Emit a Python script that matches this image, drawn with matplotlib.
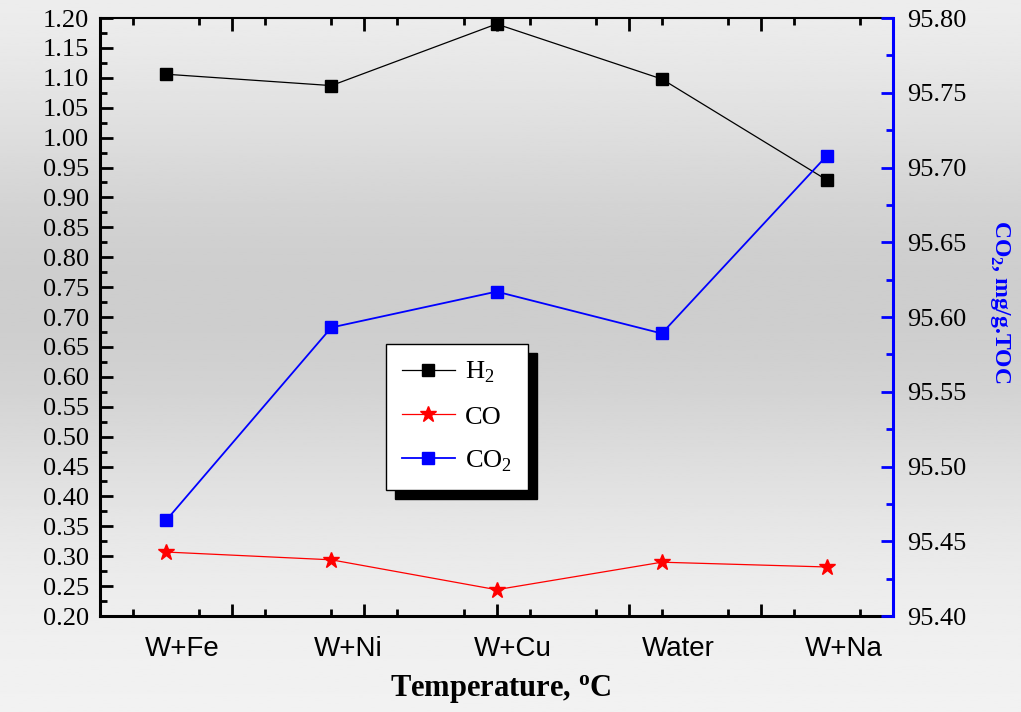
import numpy as np
import matplotlib
matplotlib.use("Agg")
from matplotlib import pyplot as plt
from matplotlib.patches import Rectangle
from matplotlib.ticker import MultipleLocator

# data
samples = ['W+Fe', 'W+Ni', 'W+Cu', 'Water', 'W+Na']
h2 = [1.106, 1.087, 1.190, 1.098, 0.929]
co = [0.307, 0.294, 0.244, 0.290, 0.282]
co2 = [95.464, 95.593, 95.617, 95.589, 95.708]

x = np.arange(1, len(samples) + 1)

plt.rcParams['font.family'] = ['Liberation Serif', 'DejaVu Serif']
plt.rcParams['mathtext.fontset'] = 'custom'
plt.rcParams['mathtext.rm'] = 'Liberation Serif'
plt.rcParams['mathtext.bf'] = 'Liberation Serif:bold'

fig = plt.figure(figsize=(10.21, 7.12), dpi=100)

# gray gradient background
bg = fig.add_axes([0, 0, 1, 1], zorder=-10)
t = np.linspace(0, 1, 300)
shade = 0.95 - 0.145 * np.exp(-((t - 0.58) / 0.3) ** 2)
bg.imshow(shade[:, None], cmap='gray', vmin=0, vmax=1, aspect='auto',
          extent=[0, 1, 0, 1], origin='lower')
bg.axis('off')

ax = fig.add_axes([0.098, 0.1348, 0.7767, 0.8399])
ax.patch.set_alpha(0)
ax2 = ax.twinx()

ax.plot(x, h2, color='black', lw=0.9, marker='s', ms=8, label='H$_2$')
ax.plot(x, co, color='red', lw=0.9, marker='*', ms=12, label='CO')
ax2.plot(x, co2, color='blue', lw=1.3, marker='s', ms=8, label='CO$_2$')

ax.set_xlim(0.6, 5.4)
ax.set_ylim(0.2, 1.2)
ax2.set_ylim(95.40, 95.80)

ax.xaxis.set_minor_locator(MultipleLocator(0.4))
ax.set_xticks(np.arange(0.6, 5.41, 0.8))
ax.set_xticklabels([])
ax.yaxis.set_major_locator(MultipleLocator(0.05))
ax.yaxis.set_minor_locator(MultipleLocator(0.025))
ax.yaxis.set_major_formatter(plt.FormatStrFormatter('%.2f'))
ax2.yaxis.set_major_locator(MultipleLocator(0.05))
ax2.yaxis.set_minor_locator(MultipleLocator(0.025))
ax2.yaxis.set_major_formatter(plt.FormatStrFormatter('%.2f'))

ax.tick_params(axis='both', which='both', direction='in', top=True, width=2)
ax.tick_params(axis='x', which='major', length=9)
ax.tick_params(axis='x', which='minor', length=5)
ax.tick_params(axis='y', which='major', length=9, labelsize=19, pad=8)
ax.tick_params(axis='y', which='minor', length=5)
ax.tick_params(axis='y', right=False, which='both')
ax2.tick_params(axis='y', which='both', direction='in', color='blue', width=2,
                labelsize=19, pad=10)
ax2.tick_params(axis='y', which='major', length=9)
ax2.tick_params(axis='y', which='minor', length=5)

for side in ['left', 'bottom']:
    ax.spines[side].set_linewidth(2.2)
ax.spines['top'].set_linewidth(1.5)
ax2.spines['right'].set_color('blue')
ax2.spines['right'].set_linewidth(2.2)
for side in ['left', 'bottom', 'top']:
    ax2.spines[side].set_visible(False)

# category labels sit under the points, not under the ticks
for xi, name in zip(x, samples):
    ax.text(xi + 0.1, -0.055, name, transform=ax.get_xaxis_transform(),
            ha='center', va='center', fontsize=20,
            family=['Liberation Sans Narrow', 'Liberation Sans'])

fig.text(0.49, 0.032, r'Temperature, $\mathbf{^{o}}$C', ha='center', va='center',
         fontsize=22, fontweight='bold')
fig.text(0.979, 0.576, 'CO$_\\mathbf{2}$, mg/g.TOC', rotation=270, ha='center',
         va='center', fontsize=17, fontweight='bold', color='blue')

handles = ax.get_lines() + ax2.get_lines()
leg = ax2.legend(handles, [h.get_label() for h in handles], loc='upper left',
                 bbox_to_anchor=(386 / 1021, 1 - 344 / 712),
                 bbox_transform=fig.transFigure, borderaxespad=0,
                 fontsize=19, frameon=True, fancybox=False, edgecolor='black',
                 framealpha=1, handlelength=2.0, handletextpad=0.4,
                 borderpad=0.6, labelspacing=0.75)
leg.get_frame().set_linewidth(1)
leg.set_zorder(20)

fig.canvas.draw()
bb = leg.get_window_extent().transformed(fig.transFigure.inverted())
dx, dy = 9 / 1021, 9 / 712
ax2.add_patch(Rectangle((bb.x0 + dx, bb.y0 - dy), bb.width, bb.height,
                        transform=fig.transFigure, color='black', zorder=15,
                        clip_on=False))

fig.savefig('out.png', dpi=100)
